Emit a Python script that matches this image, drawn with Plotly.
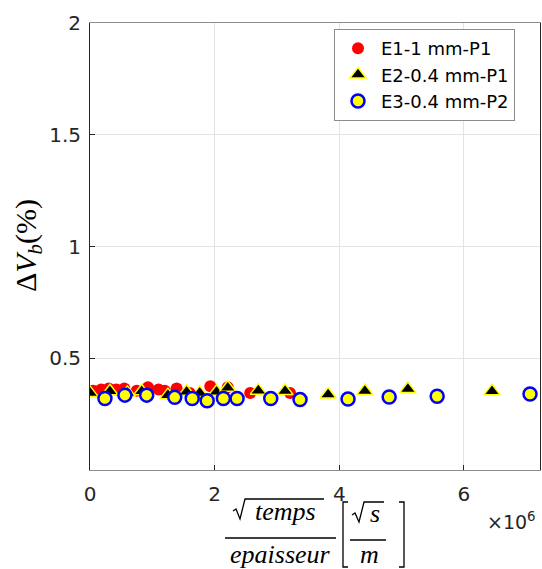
import plotly.graph_objects as go

# ---- data (x in units of 1e6 sqrt(s)/m, y in %) ----
e1_x = [0.05, 0.18, 0.30, 0.42, 0.55, 0.75, 0.93, 1.10, 1.20, 1.39, 1.60, 1.93, 2.21, 2.57, 3.21]
e1_y = [0.355, 0.360, 0.365, 0.360, 0.365, 0.355, 0.370, 0.360, 0.355, 0.365, 0.345, 0.375, 0.370, 0.345, 0.345]

e2_x = [0.00, 0.32, 0.60, 0.83, 1.25, 1.55, 1.76, 2.03, 2.21, 2.70, 3.13, 3.82, 4.41, 5.10, 6.45]
e2_y = [0.345, 0.352, 0.345, 0.352, 0.335, 0.350, 0.345, 0.350, 0.368, 0.355, 0.353, 0.338, 0.353, 0.362, 0.352]

e3_x = [0.24, 0.56, 0.91, 1.36, 1.64, 1.88, 2.14, 2.36, 2.90, 3.37, 4.14, 4.80, 5.57, 7.06]
e3_y = [0.320, 0.335, 0.335, 0.325, 0.320, 0.310, 0.320, 0.320, 0.320, 0.315, 0.318, 0.327, 0.330, 0.340]

names = ["E1-1 mm-P1", "E2-0.4 mm-P1", "E3-0.4 mm-P2"]
x_ticks = [0, 2, 4, 6]
y_ticks = [0.5, 1, 1.5, 2]

SCALE = 1e6
W, H = 542, 569
# plot area in pixels
L, R, T, B = 90, 540, 23, 470


def px(xs):
    return (xs - L) / (R - L)


def py(ys):
    return (B - ys) / (B - T)


fig = go.Figure()
fig.add_trace(go.Scatter(
    x=[v * SCALE for v in e1_x], y=e1_y, mode="markers", name=names[0],
    marker=dict(symbol="circle", size=12, color="#ff0000", line=dict(width=0))))
fig.add_trace(go.Scatter(
    x=[v * SCALE for v in e2_x], y=e2_y, mode="markers", name=names[1],
    marker=dict(symbol="triangle-up", size=14, color="#000000",
                line=dict(width=1.5, color="#ffff00"))))
fig.add_trace(go.Scatter(
    x=[v * SCALE for v in e3_x], y=e3_y, mode="markers", name=names[2],
    marker=dict(symbol="circle", size=13, color="#ffff00",
                line=dict(width=2.5, color="#0000ff"))))

sans = "DejaVu Sans, Arial, sans-serif"
serif = "Liberation Serif, DejaVu Serif, serif"
tick_font = dict(family=sans, size=20, color="#262626")

fig.update_layout(
    width=W, height=H,
    margin=dict(l=L, r=W - R, t=T, b=H - B, pad=0),
    paper_bgcolor="white", plot_bgcolor="white",
    showlegend=True,
    legend=dict(x=px(334), y=py(29), xanchor="left", yanchor="top",
                bgcolor="white", bordercolor="#8c8c8c", borderwidth=1,
                font=dict(family=sans, size=18, color="#000000"),
                itemsizing="trace", itemwidth=36, tracegroupgap=0),
    xaxis=dict(range=[0, 7.22 * SCALE], tickmode="array",
               tickvals=[v * SCALE for v in x_ticks], ticktext=[str(v) for v in x_ticks],
               showgrid=True, gridcolor="#e3e3e3", gridwidth=1,
               zeroline=False, showline=True, linecolor="#8c8c8c", linewidth=1, mirror=True,
               ticks="inside", ticklen=5, tickcolor="#262626",
               ticklabelstandoff=6,
               tickfont=tick_font),
    yaxis=dict(range=[0, 2], tickmode="array",
               tickvals=y_ticks, ticktext=["0.5", "1", "1.5", "2"],
               showgrid=True, gridcolor="#e3e3e3", gridwidth=1,
               zeroline=False, showline=True, linecolor="#262626", linewidth=1, mirror=True,
               ticks="inside", ticklen=5, tickcolor="#262626",
               ticklabelstandoff=4,
               tickfont=tick_font),
)

math_font = dict(family=serif, size=26, color="#000000")

anns = [
    # y label
    dict(x=px(28), y=py(246), text="Δ<i>V<sub>b</sub></i>(%)", textangle=-90,
         font=dict(family=serif, size=30, color="#000000"), xanchor="center", yanchor="middle"),
    # numerator "temps"
    dict(x=px(285), y=py(511), text="<i>temps</i>", font=math_font, xanchor="center", yanchor="middle"),
    # denominator
    dict(x=px(280), y=py(554), text="<i>epaisseur</i>", font=math_font, xanchor="center", yanchor="middle"),
    # s / m
    dict(x=px(375), y=py(513), text="<i>s</i>", font=math_font, xanchor="center", yanchor="middle"),
    dict(x=px(369), y=py(554), text="<i>m</i>", font=math_font, xanchor="center", yanchor="middle"),
    # x10^6
    dict(x=px(511), y=py(521), text="×10<sup>6</sup>",
         font=dict(family=sans, size=19, color="#262626"),
         xanchor="center", yanchor="middle"),
]
for a in anns:
    a.update(xref="paper", yref="paper", showarrow=False)
fig.update_layout(annotations=anns)

line_k = dict(color="#000000", width=1.3)


def path(points):
    return "M " + " L ".join(f"{px(x)} {py(y)}" for x, y in points)


shapes = [
    # fraction bars
    dict(type="line", xref="paper", yref="paper", x0=px(225), x1=px(336), y0=py(538), y1=py(538), line=line_k),
    dict(type="line", xref="paper", yref="paper", x0=px(350), x1=px(386), y0=py(540), y1=py(540), line=line_k),
    # radical signs
    dict(type="path", xref="paper", yref="paper",
         path=path([(233, 511), (236, 509), (240, 519), (245, 499), (324, 499)]), line=line_k),
    dict(type="path", xref="paper", yref="paper",
         path=path([(352, 515), (355, 513), (359, 522), (364, 502), (384, 502)]), line=line_k),
    # brackets
    dict(type="path", xref="paper", yref="paper",
         path=path([(348, 502), (343, 502), (343, 567), (348, 567)]), line=line_k),
    dict(type="path", xref="paper", yref="paper",
         path=path([(399, 502), (404, 502), (404, 567), (399, 567)]), line=line_k),
]
fig.update_layout(shapes=shapes)

fig.write_html(
    "out.html",
    config={"displayModeBar": False},
    post_script="document.body.style.margin='0';"
                "document.documentElement.style.overflow='hidden';"
                "document.body.style.overflow='hidden';",
)
